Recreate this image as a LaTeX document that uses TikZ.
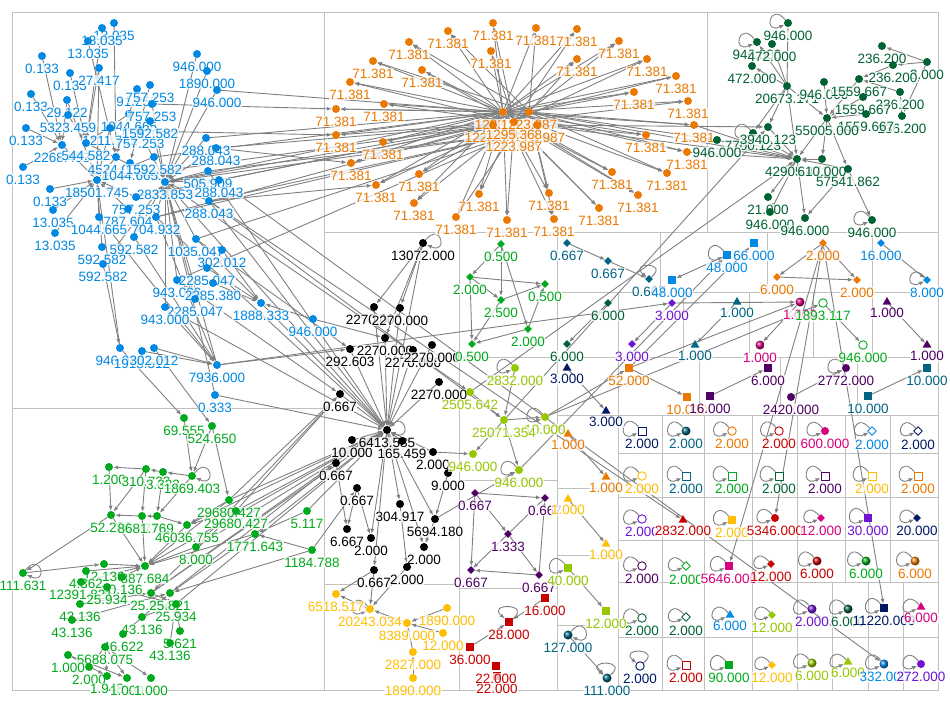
\documentclass[tikz,border=0pt]{standalone}
\usepackage{fontspec}
\setmainfont{Liberation Sans}
\usetikzlibrary{shapes.geometric,arrows.meta,backgrounds}
\definecolor{cblue}{RGB}{0,136,227}
\definecolor{corange}{RGB}{235,120,0}
\definecolor{cdkgreen}{RGB}{0,98,51}
\definecolor{cgreen}{RGB}{0,170,28}
\definecolor{clime}{RGB}{150,200,0}
\definecolor{cyellow}{RGB}{255,190,0}
\definecolor{cpurple}{RGB}{80,0,100}
\definecolor{cviolet}{RGB}{110,20,210}
\definecolor{cteal}{RGB}{0,100,130}
\definecolor{cnavy}{RGB}{0,25,100}
\definecolor{cred}{RGB}{200,0,0}
\definecolor{cpink}{RGB}{215,0,125}
\definecolor{cedge}{RGB}{128,128,128}
\definecolor{cgrid}{RGB}{192,192,192}
\newcommand\lbsize{\fontsize{13.5}{13.5}\selectfont}
\tikzset{
  dot/.style={circle,fill=#1,inner sep=0pt,minimum size=8pt},
  ball/.style={circle,ball color=#1,inner sep=0pt,minimum size=9pt},
  sq/.style={rectangle,fill=#1,inner sep=0pt,minimum size=8pt},
  osq/.style={rectangle,draw=#1,fill=white,line width=0.9pt,inner sep=0pt,minimum size=8pt},
  ocirc/.style={circle,draw=#1,fill=white,line width=0.9pt,inner sep=0pt,minimum size=8.5pt},
  dia/.style={diamond,fill=#1,inner sep=0pt,minimum size=8pt},
  odia/.style={diamond,draw=#1,fill=white,line width=0.9pt,inner sep=0pt,minimum size=9pt},
  tri/.style={regular polygon,regular polygon sides=3,fill=#1,inner sep=0pt,minimum size=10pt},
  lb/.style={text=#1,font=\lbsize,fill=white,fill opacity=0.75,text opacity=1,inner sep=0.6pt},
  ed/.style={draw=cedge,line width=0.9pt,->},
  lpl/.style={ed,out=130,in=205,min distance=24pt},
  lpr/.style={ed,out=50,in=-25,min distance=24pt},
  lpu/.style={ed,out=40,in=140,min distance=24pt},
  grid/.style={draw=cgrid,line width=0.8pt}
}
\begin{document}
\begin{tikzpicture}[x=1pt,y=1pt,line cap=round,line join=round,>={Latex[length=5pt,width=4pt]},label distance=3pt]
  \useasboundingbox (0,0) rectangle (950,-702);
  % blue group
  \foreach \n/\x/\y/\t in {b1/114/23/13.035,b2/102/28/13.035,b3/88/41/13.035,b4/42/56/0.133,b5/70/73/0.133,
    b6/99/68/27.417,b7/31/94/0.133,b8/67/100/29.122,b9/137/89/91.253,b10/150/85/757.253,b11/129/114/1044.665,
    b12/152/104/757.253,b13/26/128/0.133,b15/68/115/5323.459,b55/110/128/1211.782,b56/140/131/757.253,
    b57/150/121/1592.582,b14/62/145/2268.493,b16/86/143/544.582,b17/23/167/0.133,b18/116/157/4524.000,
    b19/130/163/1044.665,b20/154/157/1592.582,b21/50/189/0.133,b22/97/180/18501.745,b23/165/182/2833.853,
    b24/197/54/946.000,b25/207/71/1890.000,b26/217/90/946.000,b27/206/138/288.043,b28/216/148/288.043,
    b29/208/171/505.909,b30/219/180/288.043,b31/209/201/288.043,b32/53/210/13.035,b35/136/197/757.253,
    b36/128/209/787.604,b33/99/217/1044.665,b34/156/217/704.932,b37/55/233/13.035,b38/134/237/592.582,
    b39/196/239/1035.047,b40/102/247/592.582,b52/222/250/302.012,b41/103/264/592.582,b42/207/268/2285.047,
    b43/177/280/943.000,b53/213/283/2285.380,b54/195/299/2285.047,b44/261/303/1888.333,b45/313/319/946.000,
    b46/165/307/943.000,b47/120/348/946.000,b48/142/351/1918.512,b49/154/348/302.012,b50/217/365/7936.000,
    b51/215/395/0.333}
    \node[dot=cblue,label={[lb=cblue]below:\t}] (\n) at (\x,-\y) {};
  % orange group
  \foreach \n/\x/\y in {o1/493/23,o2/536/28,o3/577/29,o4/448/31,o5/619/41,o6/409/42,o7/491/51,o8/577/59,
    o9/647/59,o10/373/61,o11/422/70,o12/676/76,o13/350/82,o14/634/92,o15/688/101,o16/336/109,o17/384/104,
    o18/694/125,o19/336/135,o20/383/142,o21/646/135,o22/687/152,o23/351/163,o24/419/174,o25/612/172,
    o26/667/173,o27/376/185,o28/414/203,o29/479/194,o30/549/193,o31/638/195,o32/456/217,o33/507/220,
    o34/554/219,o35/599/208}
    \node[dot=corange,label={[lb=corange]below:71.381}] (\n) at (\x,-\y) {};
  \foreach \n/\x/\y/\t in {h1/503/112/1223.987,h2/529/112/1223.987,h3/493/125/1223.987,h4/537/125/1223.987,
    h5/514/134/1223.987,h6/514/122/1295.368}
    \node[dot=corange,label={[lb=corange]below:\t}] (\n) at (\x,-\y) {};
  % dark green group
  \foreach \n/\x/\y/\t in {g1/788/23/946.000,g2/757/42/946.000,g3/772/44/472.000,g4/752/66/472.000,
    g5/787/86/20673.171,g6/824/82/946.000,g18/882/46/236.200,g19/927/62/3.000,g20/893/65/236.200,
    g21/859/79/1559.667,g22/900/92/236.200,g23/863/97/1559.667,g24/902/116/236.200,g25/866/114/1559.667,
    g7/827/118/55005.000,g9/753/133/7700.123,g8/768/127/3940.123,g10/717/140/946.000,g11/797/159/42905.471,
    g12/822/159/610.000,g13/848/169/57541.862,g14/768/197/21.000,g16/770/212/946.000,g15/805/218/946.000,
    g17/872/220/946.000}
    \node[dot=cdkgreen,label={[lb=cdkgreen]below:\t}] (\n) at (\x,-\y) {};
  % black group
  \foreach \n/\x/\y/\t in {k1/423/243/13072.000,k2/374/307/2270.000,k3/400/308/2270.000,k4/385/338/2270.000,
    k5/350/349/292.603,k23/413/350/2270.000,k6/432/345/2270.000,k7/439/382/2270.000,k8/340/394/0.667,
    k10/352/440/10.000,k9/387/430/6413.585,k11/402/441/165.459,k12/433/452/2.000,k13/448/473/9.000,
    k14/336/463/0.667,k15/357/488/0.667,k16/400/504/304.917,k17/435/519/5694.180,k18/347/529/6.667,
    k19/371/538/2.000,k20/424/547/2.000,k21/374/570/0.667,k22/407/567/2.000}
    \node[dot=black,label={[lb=black]below:\t}] (\n) at (\x,-\y) {};
  % yellow group
  \foreach \n/\x/\y/\t in {y1/336/594/6518.517,y2/370/609/20243.034,y4/447/608/1890.000,y3/407/623/8389.000,
    y5/443/633/12.000,y6/413/652/2827.000,y7/413/678/1890.000}
    \node[dot=cyellow,label={[lb=cyellow]below:\t}] (\n) at (\x,-\y) {};
  % green group
  \foreach \n/\x/\y/\t in {gr1/184/418/69.555,gr2/212/426/524.650,gr3/109/467/1.200,gr4/146/469/310.722,
    gr5/163/472/3.322,gr6/192/476/1869.403,gr7/229/500/29680.427,gr8/236/511/29680.427,gr9/111/515/52.286,
    gr10/142/516/868.713,gr11/157/516/1.769,gr12/187/525/46036.755,gr13/196/547/8.000,gr14/255/534/1771.643,
    gr15/307/511/5.117,gr16/312/550/1184.788,gr17/23/573/111.631,gr18/104/564/12.136,gr19/145/566/887.684,
    gr20/86/571/4.362,gr21/122/577/10.136,gr22/81/582/12391.821,gr23/107/587/25.934,gr24/151/593/25.934,
    gr25/170/593/25.821,gr26/176/604/25.934,gr28/80/604/43.136,gr27/142/617/43.136,gr34/72/620/43.136,
    gr37/180/631/5.621,gr35/123/634/46.622,gr38/170/643/43.136,gr36/105/647/5688.075,gr29/68/655/1.000,
    gr30/89/667/2.000,gr31/107/676/1.948,gr32/127/678/1.000,gr33/151/678/1.000}
    \node[dot=cgreen,label={[lb=cgreen]below:\t}] (\n) at (\x,-\y) {};
  % lime group
  \foreach \n/\x/\y/\t in {L1/515/368/2832.000,L2/470/392/2505.642,L4/545/417/10.000,L3/504/420/25071.354,
    L5/473/454/946.000,L6/519/470/946.000}
    \node[dot=clime,label={[lb=clime]below:\t}] (\n) at (\x,-\y) {};
  % green diamonds
  \foreach \n/\x/\y/\t in {d1/501/244/0.500,d2/470/277/2.000,d3/545/284/0.500,d4/501/300/2.500,
    d5/528/329/2.000,d6/472/344/0.500}
    \node[dia=cgreen,label={[lb=cgreen]below:\t}] (\n) at (\x,-\y) {};
  % purple diamonds
  \foreach \n/\x/\y/\t in {p1/475/493/0.667,p2/545/498/0.667,p3/508/534/1.333,p4/471/570/0.667,p5/539/575/0.667}
    \node[dia=cpurple,label={[lb=cpurple]below:\t}] (\n) at (\x,-\y) {};
  % red squares
  \foreach \n/\x/\y/\t in {rs1/545/598/16.000,rs2/509/622/28.000,rs3/470/647/36.000,rs5/497/676/22.000,rs4/496/666/22.000}
    \node[sq=cred,label={[lb=cred]below:\t}] (\n) at (\x,-\y) {};
  % small pairs
  \node[dia=cteal,label={[lb=cteal]below:0.667}] (td1) at (567,-243) {};
  \node[dia=cteal,label={[lb=cteal]below:0.667}] (td2) at (608,-261) {};
  \node[dia=cteal,label={[lb=cteal]below:0.667}] (td3) at (649,-279) {};
  \node[sq=cblue,label={[lb=cblue]below:66.000}] (bs1) at (754,-243) {};
  \node[sq=cblue,label={[lb=cblue]below:48.000}] (bs2) at (727,-255) {};
  \node[sq=cblue,label={[lb=cblue]below:48.000}] (bs3) at (672,-280) {};
  \node[dia=corange,label={[lb=corange]below:2.000}] (od1) at (823,-243) {};
  \node[dia=corange,label={[lb=corange]below:6.000}] (od2) at (777,-277) {};
  \node[dia=corange,label={[lb=corange]below:2.000}] (od3) at (857,-280) {};
  \node[dia=cblue,label={[lb=cblue]below:16.000}] (bd1) at (881,-243) {};
  \node[dia=cblue,label={[lb=cblue]below:8.000}] (bd2) at (927,-280) {};
  \node[dia=cdkgreen,label={[lb=cdkgreen]below:6.000}] (gd1) at (608,-303) {};
  \node[dia=cdkgreen,label={[lb=cdkgreen]below:6.000}] (gd2) at (567,-344) {};
  \node[dia=cviolet,label={[lb=cviolet]below:3.000}] (vd1) at (672,-303) {};
  \node[dia=cviolet,label={[lb=cviolet]below:3.000}] (vd2) at (632,-344) {};
  \node[tri=cteal,label={[lb=cteal]below:1.000}] (tt1) at (737,-302) {};
  \node[tri=cteal,label={[lb=cteal]below:1.000}] (tt2) at (695,-345) {};
  \node[ball=cpink,label={[lb=cpink]below:1.000}] (pb1) at (800,-302) {};
  \node[ball=cpink,label={[lb=cpink]below:1.000}] (pb2) at (760,-345) {};
  \node[ocirc=cgreen,label={[lb=cgreen]below:1893.117}] (gc1) at (823,-303) {};
  \node[ocirc=cgreen,label={[lb=cgreen]below:946.000}] (gc2) at (863,-345) {};
  \node[tri=cpurple,label={[lb=cpurple]below:1.000}] (pt1) at (887,-302) {};
  \node[tri=cpurple,label={[lb=cpurple]below:1.000}] (pt2) at (927,-345) {};
  \node[tri=cnavy,label={[lb=cnavy]below:3.000}] (nt1) at (567,-368) {};
  \node[tri=cnavy,label={[lb=cnavy]below:3.000}] (nt2) at (606,-411) {};
  \node[sq=corange,label={[lb=corange]below:52.000}] (os1) at (629,-368) {};
  \node[sq=corange,label={[lb=corange]below:10.000}] (os2) at (687,-397) {};
  \node[sq=cpurple,label={[lb=cpurple]below:6.000}] (ps1) at (768,-368) {};
  \node[sq=cpurple,label={[lb=cpurple]below:16.000}] (ps2) at (710,-396) {};
  \node[dot=cpurple,label={[lb=cpurple]below:2772.000}] (pc1) at (846,-368) {};
  \node[dot=cpurple,label={[lb=cpurple]below:2420.000}] (pc2) at (791,-397) {};
  \node[sq=cteal,label={[lb=cteal]below:10.000}] (ts1) at (927,-368) {};
  \node[sq=cteal,label={[lb=cteal]below:10.000}] (ts2) at (868,-396) {};
  \node[tri=corange,label={[lb=corange]below:1.000}] (ot1) at (568,-434) {};
  \node[tri=corange,label={[lb=corange]below:1.000}] (ot2) at (606,-477) {};
  \node[tri=cyellow,label={[lb=cyellow]below:1.000}] (yt1) at (568,-499) {};
  \node[tri=cyellow,label={[lb=cyellow]below:1.000}] (yt2) at (606,-544) {};
  \node[sq=clime,label={[lb=clime]below:40.000}] (ls1) at (568,-568) {};
  \node[sq=clime,label={[lb=clime]below:12.000}] (ls2) at (606,-611) {};
  \node[ball=cteal,label={[lb=cteal]below:127.000}] (tb1) at (568,-635) {};
  \node[ball=cteal,label={[lb=cteal]below:111.000}] (tb2) at (607,-678) {};
  % singletons
  \node[osq=cnavy,label={[lb=cnavy]below:2.000}] (s11) at (642,-431) {};
  \node[ball=cteal,label={[lb=cteal]below:2.000}] (s12) at (686,-431) {};
  \node[ocirc=corange,label={[lb=corange]below:2.000}] (s13) at (732,-431) {};
  \node[ocirc=cred,label={[lb=cred]below:2.000}] (s14) at (779,-431) {};
  \node[dot=cpink,label={[lb=cpink]below:600.000}] (s15) at (825,-431) {};
  \node[odia=cblue,label={[lb=cblue]below:2.000}] (s16) at (872,-431) {};
  \node[odia=cnavy,label={[lb=cnavy]below:2.000}] (s17) at (918,-431) {};
  \node[ocirc=cyellow,label={[lb=cyellow]below:2.000}] (s21) at (642,-476) {};
  \node[osq=cteal,label={[lb=cteal]below:2.000}] (s22) at (686,-476) {};
  \node[osq=cgreen,label={[lb=cgreen]below:2.000}] (s23) at (732,-476) {};
  \node[osq=cdkgreen,label={[lb=cdkgreen]below:2.000}] (s24) at (779,-476) {};
  \node[osq=cpurple,label={[lb=cpurple]below:2.000}] (s25) at (825,-476) {};
  \node[osq=cyellow,label={[lb=cyellow]below:2.000}] (s26) at (872,-476) {};
  \node[osq=corange,label={[lb=corange]below:2.000}] (s27) at (918,-476) {};
  \node[ocirc=cviolet,label={[lb=cviolet]below:2.000}] (s31) at (642,-519) {};
  \node[tri=cred,label={[lb=cred]below:2832.000}] (s32) at (683,-520) {};
  \node[sq=cyellow,label={[lb=cyellow]below:2.000}] (s33) at (732,-520) {};
  \node[dot=cred,label={[lb=cred]below:5346.000}] (s34) at (775,-518) {};
  \node[dia=cpink,label={[lb=cpink]below:12.000}] (s35) at (821,-518) {};
  \node[sq=cviolet,label={[lb=cviolet]below:30.000}] (s36) at (868,-518) {};
  \node[dia=cnavy,label={[lb=cnavy]below:20.000}] (s37) at (917,-518) {};
  \node[ocirc=cpurple,label={[lb=cpurple]below:2.000}] (s41) at (642,-566) {};
  \node[odia=cgreen,label={[lb=cgreen]below:2.000}] (s42) at (686,-566) {};
  \node[sq=cpink,label={[lb=cpink]below:5646.000}] (s43) at (729,-566) {};
  \node[dia=cred,label={[lb=cred]below:12.000}] (s44) at (771,-564) {};
  \node[ball=cred,label={[lb=cred]below:6.000}] (s45) at (817,-561) {};
  \node[ball=cgreen,label={[lb=cgreen]below:6.000}] (s46) at (866,-561) {};
  \node[ball=corange,label={[lb=corange]below:6.000}] (s47) at (915,-561) {};
  \node[ocirc=cdkgreen,label={[lb=cdkgreen]below:2.000}] (s51) at (642,-618) {};
  \node[odia=cdkgreen,label={[lb=cdkgreen]below:2.000}] (s52) at (686,-617) {};
  \node[tri=cblue,label={[lb=cblue]below:6.000}] (s53) at (730,-615) {};
  \node[dia=clime,label={[lb=clime]below:12.000}] (s54) at (772,-615) {};
  \node[ball=cviolet,label={[lb=cviolet]below:2.000}] (s55) at (812,-609) {};
  \node[ball=cdkgreen,label={[lb=cdkgreen]below:6.000}] (s56) at (848,-609) {};
  \node[sq=cnavy,label={[lb=cnavy]below:11220.000}] (s57) at (884,-608) {};
  \node[tri=cpink,label={[lb=cpink]below:6.000}] (s58) at (921,-607) {};
  \node[ocirc=cnavy,label={[lb=cnavy]below:2.000}] (s61) at (640,-666) {};
  \node[osq=cred,label={[lb=cred]below:2.000}] (s62) at (686,-665) {};
  \node[sq=cgreen,label={[lb=cgreen]below:90.000}] (s63) at (729,-665) {};
  \node[dia=cyellow,label={[lb=cyellow]below:12.000}] (s64) at (772,-665) {};
  \node[ball=clime,label={[lb=clime]below:6.000}] (s65) at (812,-663) {};
  \node[tri=clime,label={[lb=clime]below:6.000}] (s66) at (848,-662) {};
  \node[ball=cblue,label={[lb=cblue]below:332.000}] (s67) at (884,-664) {};
  \node[dot=cviolet,label={[lb=cviolet]below:272.000}] (s68) at (921,-664) {};
  \begin{scope}[on background layer]
    % group boxes
    \draw[grid] (12,-12) rectangle (938,-690);
    \draw[grid] (324,-12) -- (324,-690);
    \draw[grid] (12,-408) -- (324,-408);
    \draw[grid] (324,-232) -- (938,-232);
    \draw[grid] (707,-12) -- (707,-232);
    \draw[grid] (459,-232) -- (459,-690);
    \draw[grid] (557,-232) -- (557,-690);
    \draw[grid] (324,-584) -- (459,-584);
    \draw[grid] (618,-415) -- (618,-690);
    \foreach \y in {357,480,588} \draw[grid] (459,-\y) -- (557,-\y);
    \foreach \y in {292,357,415} \draw[grid] (557,-\y) -- (938,-\y);
    \foreach \x in {660,767,872} \draw[grid] (\x,-232) -- (\x,-292);
    \foreach \x in {618,683,749,813,872} \draw[grid] (\x,-292) -- (\x,-357);
    \foreach \x in {618,699,780,857} \draw[grid] (\x,-357) -- (\x,-415);
    \foreach \y in {488,555,625} \draw[grid] (557,-\y) -- (618,-\y);
    \foreach \y in {453,497,540,582,637} \draw[grid] (618,-\y) -- (938,-\y);
    \foreach \x in {662,704,752,797,845,890} \draw[grid] (\x,-415) -- (\x,-582);
    \foreach \x in {662,704,752,797,832,868,903} \draw[grid] (\x,-582) -- (\x,-690);
    % blue edges
    \foreach \a/\b in {b1/b18,b2/b16,b3/b18,b6/b16,b6/b22,b4/b14,b5/b16,b7/b14,b8/b14,b8/b22,b13/b14,
      b17/b14,b21/b22,b32/b22,b37/b22,b9/b18,b10/b19,b11/b16,b12/b23,b15/b16,b55/b22,b56/b23,b57/b23,
      b20/b22,b19/b22,b18/b22,b14/b22,b16/b23,b24/b23,b25/b23,b26/b23,b27/b23,b28/b23,b29/b23,b30/b23,
      b31/b23,b33/b22,b34/b23,b35/b22,b36/b22,b38/b23,b39/b23,b40/b22,b41/b23,b42/b44,b43/b23,b53/b44,
      b54/b23,b52/b44,b45/b44,b46/b23,b47/b22,b48/b50,b49/b50,b50/b23,b51/b23,b39/b44,b46/b50,b38/b50,
      b34/b50,b33/b50,b41/b47}
      \draw[ed] (\a) -- (\b);
    % orange edges
    \foreach \i in {1,...,35} \draw[ed] (h1) -- (o\i);
    \foreach \i in {2,4,...,34} \draw[ed] (h2) -- (o\i);
    \foreach \i in {1,3,...,35} \draw[ed] (h6) -- (o\i);
    \foreach \a/\b in {h3/h1,h4/h2,h5/h6}
      \draw[ed] (\a) -- (\b);
    % between groups
    \foreach \a/\b in {b23/h3,b23/h5,b23/h1,b22/h3,b29/h5,b30/h3,b31/h5,b34/h3,b39/h5,b27/h1,b28/h3,
      b20/h1,b43/h5,b12/o16,b56/o19,b28/o23,b31/o27,b34/h5,b26/h1,b35/h3,
      h2/g10,h4/g11,h2/g11,h4/g8,o18/g11,o22/g11,
      b23/k9,b29/k9,b31/k9,b34/k9,b39/k5,b50/k5,b51/k9,b44/k9,b45/k4,b46/k9,b43/k8,
      b47/gr1,b49/gr2,b23/L2,b31/L3,b31/s32,b30/s67,b50/vd1,
      L2/g11,L3/g8,L4/os1,os1/bs1,L6/bs2,k12/L5,k17/L6,
      od1/s43,od1/s34,od1/s57,vd1/pb1,os1/pb1,L4/gc1}
      \draw[ed] (\a) -- (\b);
    % dark green edges
    \foreach \a/\b in {g5/g2,g5/g3,g5/g4,g5/g1,g5/g8,g5/g9,g5/g7,g5/g11,g6/g7,g7/g11,g7/g12,g7/g13,
      g25/g7,g23/g7,g19/g18,g19/g20,g20/g21,g22/g21,g24/g22,g19/g24,g13/g11,g8/g11,g9/g11,g10/g11,
      g12/g11,g11/g14,g11/g15,g11/g16,g13/g15,g13/g17,g21/g7}
      \draw[ed] (\a) -- (\b);
    % black and yellow edges
    \foreach \a/\b in {k1/k2,k1/k3,k1/k4,k1/k9,k2/k9,k3/k9,k4/k9,k5/k9,k6/k9,k23/k9,k7/k9,k8/k9,
      k10/k9,k11/k9,k12/k9,k9/k16,k9/k17,k9/k19,k9/k21,k9/k20,k14/k18,k15/k18,k15/k19,k13/k17,
      k17/k20,k16/k22,k21/y2,k22/y2,k21/y1,
      y3/y2,y4/y3,y5/y3,y7/y6,y6/y3,y2/y1}
      \draw[ed] (\a) -- (\b);
    % green edges
    \foreach \a/\b in {gr1/gr6,gr2/gr6,gr2/gr7,gr4/gr3,gr5/gr4,gr6/gr5,gr4/gr9,gr4/gr10,gr3/gr9,
      gr5/gr11,gr6/gr11,gr10/gr9,gr11/gr10,gr9/gr19,gr10/gr19,gr11/gr12,gr7/gr12,gr8/gr12,gr14/gr19,
      gr15/gr14,gr16/gr14,gr17/gr18,gr18/gr19,gr12/gr19,gr13/gr19,gr7/gr19,gr8/gr24,gr14/gr25,
      gr16/gr25,gr20/gr19,gr21/gr19,gr22/gr19,gr23/gr26,gr24/gr26,gr27/gr26,gr28/gr24,gr34/gr25,
      gr35/gr25,gr37/gr26,gr38/gr26,gr9/gr17,gr36/gr30,gr36/gr31,gr36/gr32,gr36/gr33,gr29/gr31,
      gr29/gr32,gr7/k9,gr8/k9,gr7/k8,gr8/k8,gr12/k9,gr13/k9,gr14/k9,gr19/k9,gr24/k14,gr25/k14,
      gr26/k9,gr15/k9,gr16/k15,gr13/k8,gr24/k9}
      \draw[ed] (\a) -- (\b);
    % small groups
    \foreach \a/\b in {L1/L3,L2/L3,L3/L4,L3/L5,L3/L6,d1/d2,d1/d4,d1/d5,d2/d4,d2/d3,d4/d3,d5/d3,
      d2/d6,d5/d6,d4/d6,p1/p2,p1/p3,p1/p4,p3/p5,p5/p4,p5/p2,p2/p4,rs1/rs2,rs3/rs2,tb1/tb2,
      td1/td2,td2/td3,bs2/bs3,od1/od2,od2/od3,od1/od3,bd1/bd2,gd1/gd2,vd1/vd2,tt1/tt2,pb1/pb2,
      gc1/gc2,pt1/pt2,nt1/nt2,os1/os2,ps2/ps1,pc2/pc1,ts2/ts1,ot1/ot2,yt1/yt2,ls1/ls2}
      \draw[ed] (\a) -- (\b);
    % self loops
    \foreach \n in {g1,g2,g9,g17,y2,L1,L4,L6,bs2,bd2,pc1,ls1,s11,s12,s13,s14,s15,s16,s17,s21,s22,
      s23,s24,s25,s26,s27,s31,s33,s34,s35,s36,s37,s41,s42,s43,s44,s45,s46,s47,s51,s52,s53,s54,s55,
      s56,s57,s58,s62,s63,s64,s65,s66,s67,s68}
      \draw[lpl] (\n) to (\n);
    \foreach \n in {k1,k9,gr6,gr17,tb1}
      \draw[lpr] (\n) to (\n);
    \foreach \n in {td3,rs2,tb2,s61}
      \draw[lpu] (\n) to (\n);
  \end{scope}
\end{tikzpicture}
\end{document}
